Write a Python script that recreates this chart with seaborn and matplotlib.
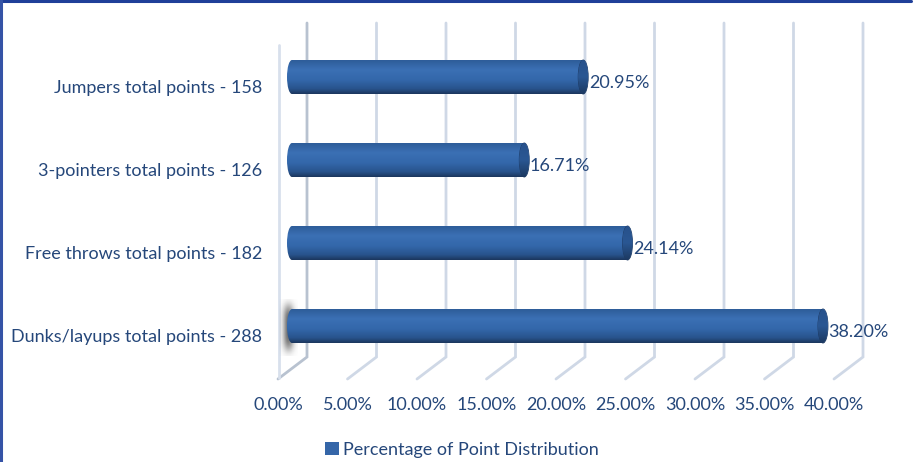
import numpy as np
import pandas as pd
import matplotlib
matplotlib.use("Agg")
import matplotlib.pyplot as plt
import seaborn as sns
from matplotlib.colors import LinearSegmentedColormap
from matplotlib.patches import Rectangle, Ellipse, Patch
from matplotlib.lines import Line2D

# ---- data ----
categories = ["Jumpers total points - 158",
              "3-pointers total points - 126",
              "Free throws total points - 182",
              "Dunks/layups total points - 288"]
percentages = [20.95, 16.71, 24.14, 38.20]
value_labels = ["20.95%", "16.71%", "24.14%", "38.20%"]
x_ticks = [0, 5, 10, 15, 20, 25, 30, 35, 40]
x_tick_labels = ["0.00%", "5.00%", "10.00%", "15.00%", "20.00%",
                 "25.00%", "30.00%", "35.00%", "40.00%"]
series_name = "Percentage of Point Distribution"

# ---- style ----
sns.set_theme(style="white")
plt.rcParams["font.family"] = ["Lato", "DejaVu Sans"]
TEXT = "#25477A"
BAR = "#2F5F9E"
FS = 13

W, H = 920, 462
fig = plt.figure(figsize=(W / 100, H / 100), dpi=100)
ax = fig.add_axes([0, 0, 1, 1])

# pixel -> data helpers (layout only)
X0PIX, XSCALE = 292.0, 13.9
Y0PIX, YSCALE = 77.0, 83.0
def PX(p):
    return (p - X0PIX) / XSCALE
def PY(p):
    return (p - Y0PIX) / YSCALE

df = pd.DataFrame({"category": categories, "pct": percentages})
sns.barplot(data=df, x="pct", y="category", color=BAR, width=0.41,
            orient="h", ax=ax, zorder=3)

back_off = PX(307) - PX(292)
front_off = PX(278) - PX(292)

# perspective gridlines
top_y, wall_y, floor_y = PY(23), PY(357), PY(379)
for t in x_ticks:
    col = "#CFD8E6" if t != 0 else "#B8C2D0"
    ax.plot([t + back_off, t + back_off, t + front_off],
            [top_y, wall_y, floor_y], color=col, lw=2.0,
            solid_joinstyle="miter", zorder=1)
# left side wall front edge
ax.plot([front_off + PX(279) - PX(278)] * 2, [PY(45), PY(378)],
        color="#D8E0EC", lw=2.0, zorder=1)

# cylinder shading
body_cmap = LinearSegmentedColormap.from_list(
    "body", [(0, "#2C5A96"), (0.3, "#3B70B4"), (0.6, "#3367AA"),
             (0.85, "#28538C"), (1.0, "#1B365C")])
cap_cmap = LinearSegmentedColormap.from_list(
    "cap", [(0, "#27518B"), (0.5, "#2A5793"), (1.0, "#1C3961")])
grad = np.linspace(0, 1, 256).reshape(-1, 1)
ew = 10.0 / XSCALE

bars = list(ax.patches)
for i, p in enumerate(bars):
    x0, w = p.get_x(), p.get_width()
    y0, h = p.get_y(), p.get_height()
    yc = y0 + h / 2
    p.set_alpha(0)
    if i == len(bars) - 1:
        # soft shadow at the base of the front cylinder
        gx = np.linspace(-1, 1, 60)
        gy = np.linspace(-1, 1, 120)
        GX, GY = np.meshgrid(gx, gy)
        a = np.exp(-(GX ** 2) * 3 - (GY ** 4) * 2.5) * 0.85
        rgba = np.zeros(a.shape + (4,))
        rgba[..., :3] = 0.32
        rgba[..., 3] = a
        ax.imshow(rgba, extent=(x0 - 0.95, x0 + 0.35, yc + 0.36, yc - 0.32),
                  origin="upper", aspect="auto", zorder=2,
                  interpolation="bilinear")
    # body
    rect = Rectangle((x0, y0), w, h, transform=ax.transData,
                     facecolor="none", edgecolor="none")
    ax.add_patch(rect)
    im = ax.imshow(grad, cmap=body_cmap, extent=(x0 - ew, x0 + w, y0 + h, y0),
                   origin="upper", aspect="auto", zorder=3)
    im.set_clip_path(rect)
    # rounded left end
    le = Ellipse((x0, yc), ew, h, transform=ax.transData,
                 facecolor="none", edgecolor="none")
    ax.add_patch(le)
    im2 = ax.imshow(grad, cmap=body_cmap, extent=(x0 - ew, x0 + ew, y0 + h, y0),
                    origin="upper", aspect="auto", zorder=3)
    im2.set_clip_path(le)
    # right end face
    re = Ellipse((x0 + w, yc), ew, h, transform=ax.transData,
                 facecolor="none", edgecolor="#1D3A63", lw=0.6, zorder=4)
    ax.add_patch(re)
    im3 = ax.imshow(grad, cmap=cap_cmap,
                    extent=(x0 + w - ew, x0 + w + ew, y0 + h, y0),
                    origin="upper", aspect="auto", zorder=4)
    im3.set_clip_path(re)
    # value label
    ax.text(x0 + w + ew / 2 + 0.05, yc + 6 / YSCALE, value_labels[i],
            ha="left", va="center", fontsize=FS, color=TEXT, zorder=5)

# category labels
for i, c in enumerate(categories):
    ax.text(PX(262), i + 11 / YSCALE, c, ha="right", va="center",
            fontsize=FS, color=TEXT)

# x tick labels
for t, lab in zip(x_ticks, x_tick_labels):
    ax.text(t + front_off, PY(405), lab, ha="center", va="center",
            fontsize=FS, color=TEXT)

ax.set_xlim(PX(0), PX(W))
ax.set_ylim(PY(H), PY(0))
ax.axis("off")

# legend
fig.legend(handles=[Patch(facecolor="#3566A8", edgecolor="none",
                          label=series_name)],
           loc="center", bbox_to_anchor=(462 / W, 1 - 450 / H),
           frameon=False, fontsize=FS, labelcolor=TEXT,
           handlelength=0.75, handleheight=0.75, handletextpad=0.25,
           borderpad=0, borderaxespad=0)

# outer frame (top and left edges visible)
fig.add_artist(Line2D([0, 911 / W], [1 - 1 / H, 1 - 1 / H],
                      transform=fig.transFigure, color="#1F3F99", lw=2.2))
fig.add_artist(Line2D([1 / W, 1 / W], [0, 1], transform=fig.transFigure,
                      color="#3553A6", lw=2.2))

fig.savefig("out.png", dpi=100)
